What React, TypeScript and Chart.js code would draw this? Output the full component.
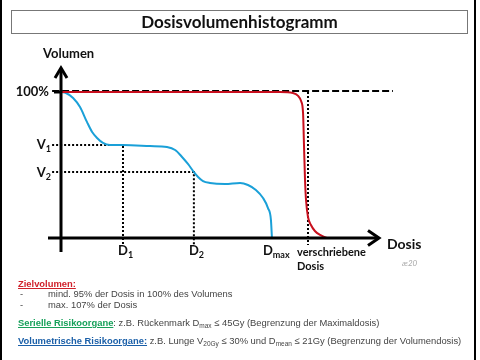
import React, { useEffect, useRef } from "react";
import { Chart, registerables } from "chart.js";
Chart.register(...registerables);

// ---- data (dose in % of prescribed dose, volume in %) ----
const blueDose = [0, 2.0, 4.9, 7.7, 10.5, 12.6, 14.6, 17.0, 19.8, 25.1, 36.0, 42.9, 46.2, 49.0, 51.4, 53.8, 55.5, 57.5, 60.3, 66.4, 72.5, 75.7, 78.9, 81.8, 83.8, 85.0, 85.4];
const blueVolume = [100, 99.3, 95.9, 89.7, 79.5, 72.6, 68.5, 65.1, 63.7, 63.7, 63.0, 62.3, 60.3, 55.5, 50.7, 45.2, 41.8, 39.0, 37.7, 37.0, 37.7, 36.3, 32.9, 27.4, 20.5, 12.3, 0];
const redDose = [0, 88.7, 93.9, 96.0, 97.2, 98.0, 98.4, 98.8, 99.2, 100, 101.2, 102.8, 104.9, 107.7];
const redVolume = [100, 100, 99.3, 97.3, 93.8, 85.6, 62.3, 39.7, 26.0, 14.4, 8.9, 4.8, 2.1, 0];

const V1 = 63.7;
const V2 = 45.2;
const D1 = 25.1;
const D2 = 53.8;
const DMAX = 85.4;
const DPRESC = 100;
const FULL = 100;
const DASH_END = 134.4;

const X_MIN = -5.263;
const X_MAX = 137.25;
const Y_MIN = -9.59;
const Y_MAX = 117.12;
const AXIS_X_END = 129.15;
const GUIDE_START = -3.6;
const GUIDE_BELOW = -4.8;

const pts = (xs: number[], ys: number[]) => xs.map((x, i) => ({ x, y: ys[i] }));

const FONT = "Lato, 'Open Sans', sans-serif";

function drawSub(ctx: CanvasRenderingContext2D, base: string, sub: string, x: number, y: number, size: number, subSize: number, align: "left" | "right") {
  ctx.font = `bold ${size}px ${FONT}`;
  const wb = ctx.measureText(base).width;
  ctx.font = `bold ${subSize}px ${FONT}`;
  const ws = ctx.measureText(sub).width;
  const start = align === "left" ? x : x - wb - ws;
  ctx.textAlign = "left";
  ctx.textBaseline = "alphabetic";
  ctx.font = `bold ${size}px ${FONT}`;
  ctx.fillText(base, start, y);
  ctx.font = `bold ${subSize}px ${FONT}`;
  ctx.fillText(sub, start + wb, y + 3);
}

const overlay = {
  id: "dvhOverlay",
  afterDraw(chart: any) {
    const ctx: CanvasRenderingContext2D = chart.ctx;
    const sx = (v: number) => chart.scales.x.getPixelForValue(v);
    const sy = (v: number) => chart.scales.y.getPixelForValue(v);
    const x0 = sx(0);
    const y0 = sy(0);
    ctx.save();
    ctx.strokeStyle = "#000";
    ctx.fillStyle = "#000";
    ctx.lineWidth = 3;
    ctx.lineJoin = "miter";
    ctx.lineCap = "butt";
    // y axis
    const yTop = sy(Y_MAX);
    ctx.beginPath();
    ctx.moveTo(x0, sy(Y_MIN));
    ctx.lineTo(x0, yTop + 1);
    ctx.stroke();
    ctx.beginPath();
    ctx.moveTo(x0 - 6, yTop + 11);
    ctx.lineTo(x0, yTop + 1);
    ctx.lineTo(x0 + 6, yTop + 11);
    ctx.stroke();
    // x axis
    const xEnd = sx(AXIS_X_END);
    ctx.beginPath();
    ctx.moveTo(sx(X_MIN), y0);
    ctx.lineTo(xEnd - 1, y0);
    ctx.stroke();
    ctx.beginPath();
    ctx.moveTo(xEnd - 12, y0 - 7.5);
    ctx.lineTo(xEnd - 1, y0);
    ctx.lineTo(xEnd - 12, y0 + 7.5);
    ctx.stroke();
    // 100% tick
    ctx.beginPath();
    ctx.moveTo(x0 - 7, sy(FULL));
    ctx.lineTo(x0, sy(FULL));
    ctx.stroke();

    // labels
    ctx.fillStyle = "#111";
    ctx.font = `bold 13px ${FONT}`;
    ctx.textAlign = "left";
    ctx.textBaseline = "middle";
    ctx.fillText("Volumen", x0 - 18, sy(Y_MAX) - 13);
    ctx.textAlign = "right";
    ctx.fillText("100%", x0 - 12, sy(FULL));
    drawSub(ctx, "V", "1", x0 - 10, sy(V1) + 4.5, 13, 9, "right");
    drawSub(ctx, "V", "2", x0 - 10, sy(V2) + 4.5, 13, 9, "right");
    drawSub(ctx, "D", "1", sx(D1) - 5, y0 + 17, 13, 9, "left");
    drawSub(ctx, "D", "2", sx(D2) - 5, y0 + 17, 13, 9, "left");
    drawSub(ctx, "D", "max", sx(DMAX) - 9, y0 + 17, 13, 9, "left");
    ctx.textAlign = "left";
    ctx.textBaseline = "alphabetic";
    ctx.font = `bold 11px ${FONT}`;
    ctx.fillText("verschriebene", sx(DPRESC) - 11, y0 + 18);
    ctx.fillText("Dosis", sx(DPRESC) - 11, y0 + 32);
    ctx.font = `bold 14px ${FONT}`;
    ctx.fillText("Dosis", xEnd + 7, y0 + 11);
    ctx.fillStyle = "#aaa";
    ctx.font = `italic 8px ${FONT}`;
    ctx.fillText("æ20", xEnd + 22, y0 + 28);
    ctx.restore();
  },
};

const noteText: React.CSSProperties = {
  position: "absolute",
  left: 0,
  font: "9.4px 'Liberation Sans', Arial, sans-serif",
  color: "#444",
  whiteSpace: "nowrap",
  lineHeight: "12px",
};
const subStyle: React.CSSProperties = { fontSize: "6.5px", verticalAlign: "-2px", lineHeight: 0 };

export default function App() {
  const ref = useRef<HTMLCanvasElement>(null);
  useEffect(() => {
    const chart = new Chart(ref.current!, {
      type: "line",
      data: {
        datasets: [
          {
            data: pts(redDose, redVolume),
            borderColor: "#C8101E",
            borderWidth: 2,
            pointRadius: 0,
            cubicInterpolationMode: "monotone",
          },
          {
            data: pts(blueDose, blueVolume),
            borderColor: "#1AA0D8",
            borderWidth: 2,
            pointRadius: 0,
            cubicInterpolationMode: "monotone",
          },
          {
            data: [{ x: GUIDE_START, y: FULL + 0.7 }, { x: DASH_END, y: FULL + 0.7 }],
            borderColor: "#000",
            borderWidth: 2,
            borderDash: [7, 3],
            pointRadius: 0,
          },
          {
            data: [{ x: GUIDE_START, y: V1 }, { x: D1, y: V1 }, { x: D1, y: GUIDE_BELOW }],
            borderColor: "#000",
            borderWidth: 2,
            borderDash: [2, 2],
            pointRadius: 0,
          },
          {
            data: [{ x: GUIDE_START, y: V2 }, { x: D2, y: V2 }, { x: D2, y: GUIDE_BELOW }],
            borderColor: "#000",
            borderWidth: 2,
            borderDash: [2, 2],
            pointRadius: 0,
          },
          {
            data: [{ x: DPRESC, y: FULL }, { x: DPRESC, y: GUIDE_BELOW }],
            borderColor: "#000",
            borderWidth: 2,
            borderDash: [2, 2],
            pointRadius: 0,
          },
        ],
      },
      options: {
        responsive: false,
        animation: false,
        layout: { padding: { left: 48, right: 80, top: 67, bottom: 108 } },
        scales: {
          x: { type: "linear", min: X_MIN, max: X_MAX, display: false },
          y: { type: "linear", min: Y_MIN, max: Y_MAX, display: false },
        },
        plugins: { legend: { display: false }, tooltip: { enabled: false }, title: { display: false } },
        events: [],
      },
      plugins: [overlay],
    } as any);
    return () => chart.destroy();
  }, []);

  return (
    <div style={{ position: "absolute", left: 0, top: 0, width: 480, height: 360, background: "#fff", overflow: "hidden" }}>
      <canvas ref={ref} width={480} height={360} style={{ position: "absolute", left: 0, top: 0, display: "block" }} />
      <div style={{ position: "absolute", left: 0, top: 0, width: 2, height: 360, background: "#000" }} />
      <div style={{ position: "absolute", left: 474, top: 0, width: 2, height: 360, background: "#000" }} />
      <div
        style={{
          position: "absolute",
          left: 11,
          top: 10,
          width: 457,
          height: 24,
          boxSizing: "border-box",
          border: "1px solid #777",
          textAlign: "center",
          font: `bold 17px ${FONT}`,
          lineHeight: "22px",
          color: "#111",
        }}
      >
        Dosisvolumenhistogramm
      </div>
      <div style={{ ...noteText, left: 18, top: 278, fontWeight: "bold", color: "#D0202A", textDecoration: "underline" }}>Zielvolumen:</div>
      <div style={{ ...noteText, left: 20, top: 288 }}>-</div>
      <div style={{ ...noteText, left: 48, top: 288 }}>mind. 95% der Dosis in 100% des Volumens</div>
      <div style={{ ...noteText, left: 20, top: 299 }}>-</div>
      <div style={{ ...noteText, left: 48, top: 299 }}>max. 107% der Dosis</div>
      <div style={{ ...noteText, left: 18, top: 317 }}>
        <span style={{ fontWeight: "bold", color: "#16A05A", textDecoration: "underline" }}>Serielle Risikoorgane</span>: z.B. Rückenmark D
        <span style={subStyle}>max</span> ≤ 45Gy (Begrenzung der Maximaldosis)
      </div>
      <div style={{ ...noteText, left: 18, top: 335 }}>
        <span style={{ fontWeight: "bold", color: "#1A5FA8", textDecoration: "underline" }}>Volumetrische Risikoorgane:</span> z.B. Lunge V
        <span style={subStyle}>20Gy</span> ≤ 30% und D<span style={subStyle}>mean</span> ≤ 21Gy (Begrenzung der Volumendosis)
      </div>
    </div>
  );
}
